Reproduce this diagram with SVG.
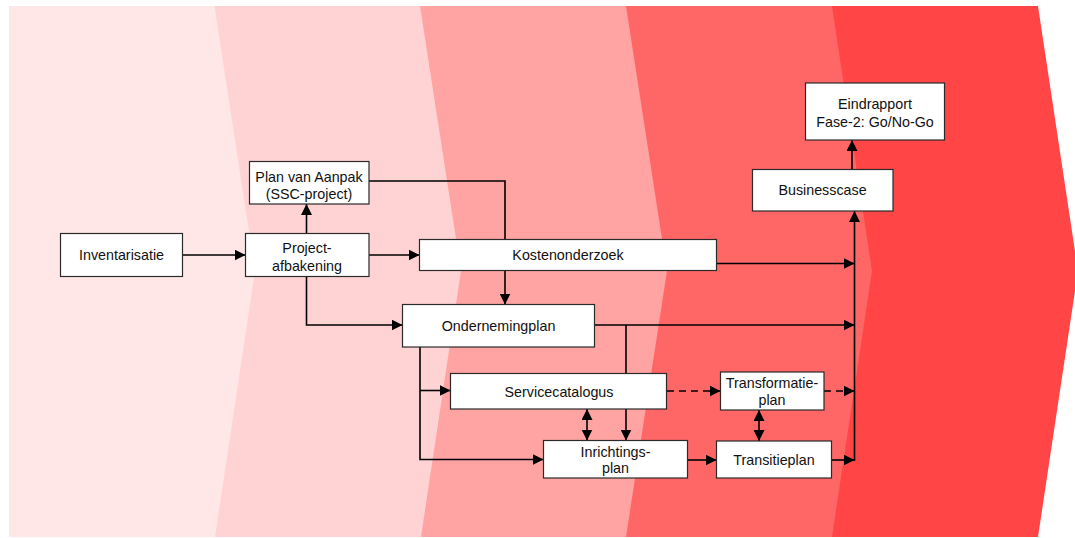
<svg xmlns="http://www.w3.org/2000/svg" width="1075" height="538" viewBox="0 0 1075 538">
  <style>
    .node rect { fill: #ffffff; stroke: #2a2a2a; stroke-width: 1.2; }
    .node text { font-family: "Liberation Sans", Arial, sans-serif; font-size: 14.3px; fill: #111111; text-anchor: middle; }
    .conn path { fill: none; stroke: #000000; stroke-width: 1.6; }
    .conn .arrow { marker-end: url(#ah); }
    .conn .both { marker-start: url(#ah); marker-end: url(#ah); }
    .conn .dash { stroke-dasharray: 7 5; }
  </style>
  <defs>
    <marker id="ah" markerUnits="userSpaceOnUse" markerWidth="11" markerHeight="11" refX="11" refY="5.5" orient="auto-start-reverse">
      <path d="M0,0 L11,5.5 L0,11 z" fill="#000000"/>
    </marker>
  </defs>

  <g id="background">
    <polygon points="9,6 1038,6 1078,271 1038,537 9,537" fill="#ff4545"/>
    <polygon points="9,6 832,6 872,271 832,537 9,537" fill="#ff6666"/>
    <polygon points="9,6 626,6 667,271 626,537 9,537" fill="#ffa3a3"/>
    <polygon points="9,6 420,6 461,271 421,537 9,537" fill="#ffd3d3"/>
    <polygon points="9,6 214.5,6 255,271 215,537 9,537" fill="#ffe7e7"/>
  </g>

  <g id="connectors" class="conn">
    <path class="arrow" d="M182.5,255 H245.5"/>
    <path class="arrow" d="M306.5,233.5 V204"/>
    <path d="M369,181 H505 V239.5"/>
    <path class="arrow" d="M505,270.5 V304.5"/>
    <path class="arrow" d="M369,255 H419.5"/>
    <path class="arrow" d="M306.5,276.5 V325 H402.5"/>
    <path class="arrow" d="M716.5,263.5 H854.5"/>
    <path class="arrow" d="M594.5,325 H854.5"/>
    <path d="M626,325 V373.5"/>
    <path class="arrow" d="M626,409 V440.5"/>
    <path class="arrow" d="M420,347 V459.5 H543.5"/>
    <path class="arrow" d="M420,390.5 H450.5"/>
    <path class="both" d="M587,409 V440.5"/>
    <path class="arrow dash" d="M667,391 H720.5"/>
    <path class="arrow dash" d="M824,391 H854.5"/>
    <path class="both" d="M759,410 V441"/>
    <path class="arrow" d="M687.5,460 H716.5"/>
    <path class="arrow" d="M831.5,460 H854.5"/>
    <path class="arrow" d="M854.5,460.8 V211"/>
    <path class="arrow" d="M852,169.5 V140"/>
  </g>

  <g id="inventarisatie" class="node">
    <rect x="60.5" y="233.5" width="122" height="43"/>
    <text x="121.5" y="260">Inventarisatie</text>
  </g>
  <g id="projectafbakening" class="node">
    <rect x="245.5" y="233.5" width="123.5" height="43"/>
    <text x="307" y="253">Project-</text>
    <text x="307" y="271">afbakening</text>
  </g>
  <g id="planvanaanpak" class="node">
    <rect x="249.5" y="161.5" width="119.5" height="42.5"/>
    <text x="309" y="182">Plan van Aanpak</text>
    <text x="309" y="199">(SSC-project)</text>
  </g>
  <g id="kostenonderzoek" class="node">
    <rect x="419.5" y="239.5" width="297" height="31"/>
    <text x="568" y="260">Kostenonderzoek</text>
  </g>
  <g id="ondernemingplan" class="node">
    <rect x="402.5" y="304.5" width="192" height="42.5"/>
    <text x="498.5" y="331">Ondernemingplan</text>
  </g>
  <g id="servicecatalogus" class="node">
    <rect x="450.5" y="373.5" width="216" height="35.5"/>
    <text x="559" y="396.5">Servicecatalogus</text>
  </g>
  <g id="inrichtingsplan" class="node">
    <rect x="543.5" y="440.5" width="144" height="37.5"/>
    <text x="615.5" y="456.5">Inrichtings-</text>
    <text x="615.5" y="472.5">plan</text>
  </g>
  <g id="transformatieplan" class="node">
    <rect x="720.5" y="372" width="103.5" height="38"/>
    <text x="772" y="388">Transformatie-</text>
    <text x="772" y="405">plan</text>
  </g>
  <g id="transitieplan" class="node">
    <rect x="716.5" y="441" width="115" height="37"/>
    <text x="774" y="465">Transitieplan</text>
  </g>
  <g id="businesscase" class="node">
    <rect x="752.5" y="169.5" width="140.5" height="41.5"/>
    <text x="822.5" y="195">Businesscase</text>
  </g>
  <g id="eindrapport" class="node">
    <rect x="805.5" y="83" width="139" height="57"/>
    <text x="875" y="109">Eindrapport</text>
    <text x="875" y="126.5">Fase-2: Go/No-Go</text>
  </g>
</svg>
